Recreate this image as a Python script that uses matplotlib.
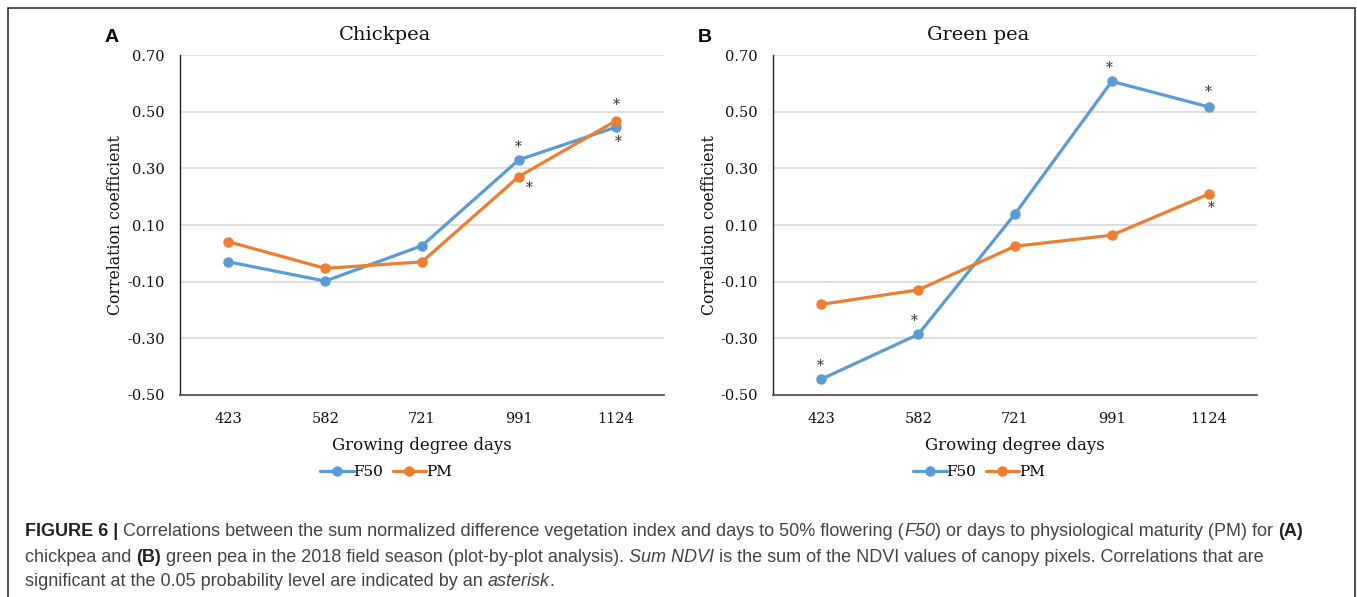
import matplotlib
matplotlib.use("Agg")
import matplotlib.pyplot as plt
from matplotlib.patches import Rectangle
from matplotlib.font_manager import FontProperties

# ---------------- data ----------------
gdd_labels = ["423", "582", "721", "991", "1124"]

chickpea_f50 = [-0.03, -0.098, 0.027, 0.33, 0.445]
chickpea_pm = [0.041, -0.053, -0.03, 0.271, 0.467]
chickpea_sig_f50 = [0, 0, 0, 1, 1]
chickpea_sig_pm = [0, 0, 0, 1, 1]

greenpea_f50 = [-0.444, -0.286, 0.139, 0.607, 0.517]
greenpea_pm = [-0.18, -0.129, 0.025, 0.064, 0.209]
greenpea_sig_f50 = [1, 1, 0, 1, 1]
greenpea_sig_pm = [0, 0, 0, 0, 1]

yticks = [-0.50, -0.30, -0.10, 0.10, 0.30, 0.50, 0.70]

BLUE = "#5B9BD5"
ORANGE = "#ED7D31"
W, H = 1357, 597

fig = plt.figure(figsize=(W / 100, H / 100), dpi=100)

def fx(px):
    return px / W

def fy(py):
    return 1 - py / H

SERIF = "DejaVu Serif"

def make_panel(left_px, title, letter, f50, pm, sig_f50, sig_pm, star_offsets):
    ax = fig.add_axes([fx(left_px), fy(395), fx(484), 340 / H])
    x = list(range(len(gdd_labels)))
    ax.plot(x, f50, color=BLUE, lw=2.3, marker="o", ms=6.5, label="F50",
            solid_capstyle="round", zorder=3)
    ax.plot(x, pm, color=ORANGE, lw=2.3, marker="o", ms=6.5, label="PM",
            solid_capstyle="round", zorder=3)
    ax.set_xlim(-0.5, len(gdd_labels) - 0.5)
    ax.set_ylim(-0.5, 0.7)
    ax.set_yticks(yticks)
    ax.set_yticklabels([f"{v:.2f}" for v in yticks], family=SERIF, fontsize=10.5)
    ax.set_xticks(x)
    ax.set_xticklabels(gdd_labels, family=SERIF, fontsize=10.5)
    ax.tick_params(axis="both", length=0, colors="#111111")
    ax.tick_params(axis="y", pad=11)
    ax.tick_params(axis="x", pad=12)
    for v in yticks[1:]:
        ax.axhline(v, color="#D9D9D9", lw=1.2, zorder=1)
    for s in ["top", "right"]:
        ax.spines[s].set_visible(False)
    ax.spines["left"].set_color("#222222")
    ax.spines["left"].set_linewidth(1.0)
    ax.spines["bottom"].set_color("#555555")
    ax.spines["bottom"].set_linewidth(1.3)
    ax.set_xlabel("Growing degree days", family=SERIF, fontsize=12, labelpad=8,
                  color="#111111")
    # significance asterisks
    for series, sig, key in [(f50, sig_f50, "f50"), (pm, sig_pm, "pm")]:
        for i, (v, s) in enumerate(zip(series, sig)):
            if s:
                dx, dy = star_offsets[key][i]
                ax.annotate("*", (i, v), xytext=(dx * 0.72, dy * 0.72),
                            textcoords="offset points", ha="center", va="center",
                            fontsize=10, color="#333333", family=SERIF)
    center_px = left_px - 180 + 385
    fig.text(fx(center_px), fy(35), title, family=SERIF, fontsize=14,
             ha="center", va="center", color="#111111")
    fig.text(fx(left_px - 68), fy(37), letter, family="Liberation Sans",
             weight="bold", fontsize=14, ha="center", va="center")
    fig.text(fx(left_px - 64), fy(225), "Correlation coefficient", family=SERIF,
             fontsize=11.3, rotation=90, ha="center", va="center", color="#111111")
    ax.legend(loc="center", bbox_to_anchor=(fx(center_px + 1), fy(472)),
              bbox_transform=fig.transFigure, ncol=2, frameon=False,
              prop=FontProperties(family=SERIF, size=11), handlelength=2.2,
              handletextpad=0.0, columnspacing=0.6, borderaxespad=0)
    return ax

offs_A = {"f50": {3: (-1, -13 * -1), 4: (3, -15)},
          "pm": {3: (10, -11), 4: (1, 16)}}
offs_B = {"f50": {0: (-1, 13), 1: (-4, 13), 3: (-3, 13), 4: (0, 15)},
          "pm": {4: (3, -14)}}

make_panel(180, "Chickpea", "A", chickpea_f50, chickpea_pm,
           chickpea_sig_f50, chickpea_sig_pm, offs_A)
make_panel(773, "Green pea", "B", greenpea_f50, greenpea_pm,
           greenpea_sig_f50, greenpea_sig_pm, offs_B)

# frame around figure
fig.patches.append(Rectangle((fx(8), fy(610)), fx(1347), (610 - 8) / H,
                             transform=fig.transFigure, fill=False,
                             edgecolor="#333333", lw=1.2, clip_on=False))

# ---------------- caption ----------------
caption_lines = [
    [("FIGURE 6 | ", "bold", "normal"),
     ("Correlations between the sum normalized difference vegetation index and days to 50% flowering (", "normal", "normal"),
     ("F50", "normal", "italic"),
     (") or days to physiological maturity (PM) for ", "normal", "normal"),
     ("(A)", "bold", "normal")],
    [("chickpea and ", "normal", "normal"),
     ("(B)", "bold", "normal"),
     (" green pea in the 2018 field season (plot-by-plot analysis). ", "normal", "normal"),
     ("Sum NDVI", "normal", "italic"),
     (" is the sum of the NDVI values of canopy pixels. Correlations that are", "normal", "normal")],
    [("significant at the 0.05 probability level are indicated by an ", "normal", "normal"),
     ("asterisk", "normal", "italic"),
     (".", "normal", "normal")],
]

renderer = fig.canvas.get_renderer()

def run_width(text, size, weight, style):
    prop = FontProperties(family="Liberation Sans", size=size, weight=weight, style=style)
    w1, _, _ = renderer.get_text_width_height_descent("x" + text + "x", prop, ismath=False)
    w0, _, _ = renderer.get_text_width_height_descent("xx", prop, ismath=False)
    return w1 - w0

base = 10.0
tot = sum(run_width(t, base, w, s) for t, w, s in caption_lines[0])
cap_size = base * (1302 - 25) / tot

baselines = [536, 562, 586]
for line, yb in zip(caption_lines, baselines):
    xpx = 25
    for t, w, s in line:
        color = "#222222" if w == "bold" else "#444444"
        fig.text(fx(xpx), fy(yb), t, family="Liberation Sans", size=cap_size,
                 weight=w, style=s, ha="left", va="baseline", color=color)
        xpx += run_width(t, cap_size, w, s)

fig.savefig("out.png", dpi=100)
